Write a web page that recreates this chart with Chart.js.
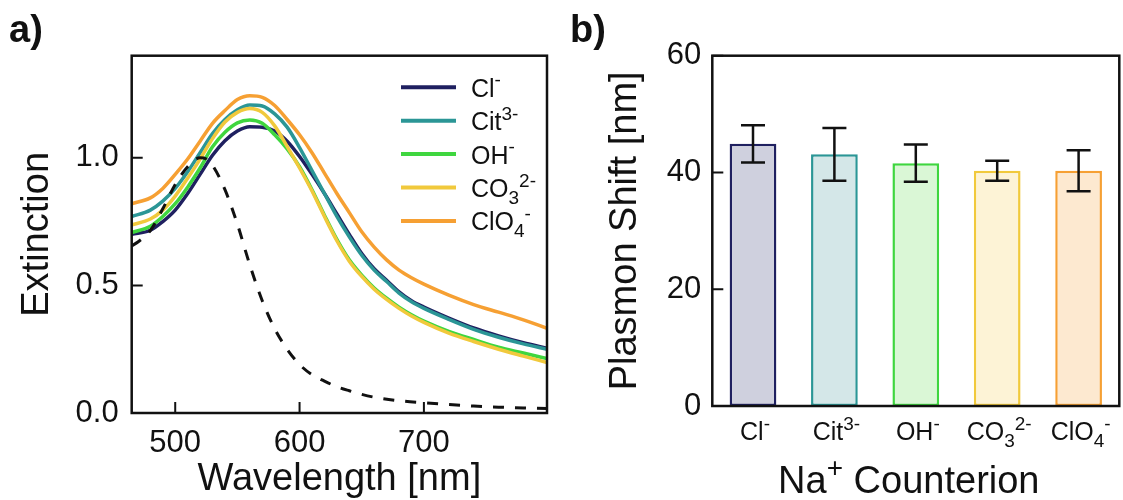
<!DOCTYPE html>
<html>
<head>
<meta charset="utf-8">
<script src="https://cdn.jsdelivr.net/npm/chart.js@4.4.1/dist/chart.umd.min.js"></script>
<style>
  html, body { margin: 0; padding: 0; background: #fff; }
  body { width: 1123px; height: 500px; position: relative; overflow: hidden; font-family: "Liberation Sans", Arial, sans-serif; }
  .panel { position: absolute; top: 0; height: 500px; }
  #container-spectra { left: 0; width: 560px; }
  #container-shift { left: 560px; width: 563px; }
  .panel-label { position: absolute; top: 10px; font-weight: bold; font-size: 38px; line-height: 38px; color: #111; z-index: 2; }
</style>
</head>
<body>
<div class="panel" id="container-spectra"><canvas id="chart-spectra"></canvas></div>
<div class="panel" id="container-shift"><canvas id="chart-shift"></canvas></div>
<div class="panel-label" style="left:9px;">a)</div>
<div class="panel-label" style="left:570px;">b)</div>
<script>
const FONT = '"Liberation Sans", Arial, sans-serif'
const INK = '#111111'

// ---- panel a: extinction spectra ----
const wavelengths = [465, 480, 490, 500, 510, 520, 530, 540, 550, 560, 570, 580, 590, 600, 610, 620, 630, 640, 650, 660, 670, 680, 690, 700, 720, 740, 760, 780, 799]
const extinctionCl = [0.700, 0.716, 0.750, 0.795, 0.860, 0.935, 1.010, 1.067, 1.105, 1.122, 1.120, 1.105, 1.065, 1.005, 0.935, 0.860, 0.780, 0.700, 0.625, 0.565, 0.520, 0.475, 0.440, 0.415, 0.372, 0.333, 0.302, 0.275, 0.254]
const extinctionCit = [0.770, 0.795, 0.830, 0.880, 0.945, 1.020, 1.095, 1.150, 1.188, 1.207, 1.203, 1.172, 1.120, 1.040, 0.950, 0.860, 0.770, 0.690, 0.618, 0.560, 0.515, 0.470, 0.436, 0.410, 0.367, 0.328, 0.297, 0.271, 0.250]
const extinctionOH = [0.707, 0.732, 0.770, 0.820, 0.885, 0.960, 1.043, 1.100, 1.137, 1.148, 1.135, 1.090, 1.035, 0.965, 0.875, 0.775, 0.680, 0.600, 0.540, 0.490, 0.450, 0.415, 0.385, 0.360, 0.320, 0.288, 0.258, 0.235, 0.213]
const extinctionCO3 = [0.737, 0.760, 0.795, 0.850, 0.920, 0.995, 1.075, 1.140, 1.178, 1.193, 1.178, 1.125, 1.045, 0.960, 0.870, 0.770, 0.675, 0.595, 0.535, 0.485, 0.445, 0.410, 0.380, 0.355, 0.313, 0.280, 0.250, 0.223, 0.198]
const extinctionClO4 = [0.820, 0.843, 0.880, 0.935, 0.995, 1.065, 1.135, 1.185, 1.228, 1.243, 1.237, 1.205, 1.150, 1.090, 1.020, 0.940, 0.860, 0.785, 0.710, 0.650, 0.600, 0.560, 0.530, 0.505, 0.462, 0.425, 0.395, 0.365, 0.332]

// dashed reference spectrum
const refWavelengths = [465, 470, 480, 490, 500, 510, 520, 525, 530, 540, 550, 560, 570, 580, 590, 600, 610, 620, 630, 640, 650, 660, 680, 700, 720, 740, 760, 780, 799]
const extinctionRef = [0.655, 0.670, 0.715, 0.800, 0.895, 0.965, 1.000, 0.995, 0.970, 0.875, 0.740, 0.580, 0.440, 0.330, 0.250, 0.190, 0.150, 0.125, 0.103, 0.087, 0.073, 0.062, 0.048, 0.040, 0.033, 0.027, 0.023, 0.020, 0.018]

const wavelengthTicks = [500, 600, 700]
const extinctionTicks = [0, 0.5, 1.0]

// ---- panel b: plasmon shift ----
const anions = ['Cl^{-}', 'Cit^{3-}', 'OH^{-}', 'CO_{3}^{2-}', 'ClO_{4}^{-}']
const shiftMeans = [44.9, 43.1, 41.6, 40.3, 40.3]
const shiftErrors = [3.2, 4.5, 3.2, 1.7, 3.5]
const shiftTicks = [0, 20, 40, 60]

const lineColors = ['#1f2060', '#2b9696', '#3fd63f', '#f1c93c', '#f6a033']
const fillColors = ['#cfd0de', '#d4e7e8', '#daf7d6', '#fdf3d6', '#fde9d0']

// text with ^{sup} and _{sub} parts
function richParts(str){
  const parts = []
  const re = /([_^])\{([^}]*)\}|([^_^]+)/g
  let m
  while ((m = re.exec(str)) !== null){
    if (m[3]) parts.push({text: m[3], mode: 'base'})
    else parts.push({text: m[2], mode: m[1] === '^' ? 'sup' : 'sub'})
  }
  return parts
}

function drawRich(ctx, str, x, y, size, align){
  const parts = richParts(str)
  const small = Math.round(size * 0.74)
  let total = 0
  parts.forEach(p => {
    ctx.font = `${p.mode === 'base' ? size : small}px ${FONT}`
    p.w = ctx.measureText(p.text).width
    total += p.w
  })
  let cx = align === 'center' ? x - total / 2 : x
  ctx.save()
  ctx.fillStyle = INK
  ctx.textAlign = 'left'
  ctx.textBaseline = 'alphabetic'
  parts.forEach(p => {
    let dy = 0
    if (p.mode === 'sup') dy = -size * 0.42
    if (p.mode === 'sub') dy = size * 0.27
    ctx.font = `${p.mode === 'base' ? size : small}px ${FONT}`
    ctx.fillText(p.text, cx, y + dy)
    cx += p.w
  })
  ctx.restore()
}

// box around the plot area and inward tick marks
const framePlugin = {
  id: 'frame',
  afterDraw(chart, args, opts){
    const {ctx, chartArea: a} = chart
    ctx.save()
    ctx.strokeStyle = INK
    ctx.lineWidth = 2.5
    ctx.strokeRect(a.left, a.top, a.right - a.left, a.bottom - a.top)
    ctx.lineWidth = 2
    ctx.beginPath()
    if (opts.xTicks){
      chart.scales.x.ticks.forEach(t => {
        const px = chart.scales.x.getPixelForValue(t.value)
        ctx.moveTo(px, a.bottom)
        ctx.lineTo(px, a.bottom - 11)
      })
    }
    chart.scales.y.ticks.forEach(t => {
      const py = chart.scales.y.getPixelForValue(t.value)
      ctx.moveTo(a.left, py)
      ctx.lineTo(a.left + 11, py)
    })
    ctx.stroke()
    ctx.restore()
  }
}

const spectraLegendPlugin = {
  id: 'spectraLegend',
  afterDraw(chart){
    const {ctx, chartArea: a} = chart
    anions.forEach((label, i) => {
      const rowY = a.top + 31.6 + i * 33.4
      ctx.save()
      ctx.strokeStyle = lineColors[i]
      ctx.lineWidth = 4
      ctx.beginPath()
      ctx.moveTo(a.right - 146, rowY)
      ctx.lineTo(a.right - 91, rowY)
      ctx.stroke()
      ctx.restore()
      drawRich(ctx, label, a.right - 76, rowY + 9.5, 25, 'left')
    })
  }
}

const errorBarPlugin = {
  id: 'errorBars',
  afterDatasetsDraw(chart){
    const {ctx, scales: {x, y}} = chart
    ctx.save()
    ctx.strokeStyle = INK
    ctx.lineWidth = 2.5
    ctx.beginPath()
    shiftMeans.forEach((v, i) => {
      const px = x.getPixelForValue(i)
      const top = y.getPixelForValue(v + shiftErrors[i])
      const bot = y.getPixelForValue(v - shiftErrors[i])
      ctx.moveTo(px, top)
      ctx.lineTo(px, bot)
      ctx.moveTo(px - 12, top)
      ctx.lineTo(px + 12, top)
      ctx.moveTo(px - 12, bot)
      ctx.lineTo(px + 12, bot)
    })
    ctx.stroke()
    ctx.restore()
  }
}

const anionAxisPlugin = {
  id: 'anionAxis',
  afterDraw(chart){
    const {ctx, chartArea: a, scales: {x}} = chart
    anions.forEach((label, i) => {
      drawRich(ctx, label, x.getPixelForValue(i) + 2, a.bottom + 34, 25, 'center')
    })
    drawRich(ctx, 'Na^{+} Counterion', (a.left + a.right) / 2 - 7, a.bottom + 87, 38, 'center')
  }
}

// ---- chart a ----
const spectraSeries = [extinctionCl, extinctionCit, extinctionOH, extinctionCO3, extinctionClO4]

new Chart(document.getElementById('chart-spectra'), {
  type: 'line',
  data: {
    datasets: [
      {
        label: 'reference',
        data: refWavelengths.map((w, i) => ({x: w, y: extinctionRef[i]})),
        borderColor: INK,
        borderWidth: 3,
        borderDash: [11, 11],
        order: 0
      },
      // later anions are drawn on top
      ...spectraSeries.map((series, k) => ({
        label: anions[k],
        data: wavelengths.map((w, i) => ({x: w, y: series[i]})),
        borderColor: lineColors[k],
        borderWidth: 3.5,
        order: spectraSeries.length - k
      }))
    ]
  },
  options: {
    responsive: true,
    maintainAspectRatio: false,
    animation: false,
    layout: { padding: { top: 55.7, right: 13, left: 0, bottom: 0 } },
    elements: {
      point: { radius: 0 },
      line: { cubicInterpolationMode: 'monotone', fill: false }
    },
    plugins: {
      legend: { display: false },
      tooltip: { enabled: false },
      frame: { xTicks: true }
    },
    scales: {
      x: {
        type: 'linear',
        min: 465,
        max: 799,
        grid: { display: false, drawTicks: false },
        border: { display: false },
        afterBuildTicks: s => { s.ticks = wavelengthTicks.map(v => ({value: v})) },
        afterFit: s => { s.height = 87 },
        ticks: { font: { family: FONT, size: 31 }, color: INK, padding: 12, maxRotation: 0 },
        title: {
          display: true,
          text: 'Wavelength [nm]',
          color: INK,
          font: { family: FONT, size: 38, lineHeight: 1.1 },
          padding: 0
        }
      },
      y: {
        type: 'linear',
        min: 0,
        max: 1.4,
        grid: { display: false, drawTicks: false },
        border: { display: false },
        afterBuildTicks: s => { s.ticks = extinctionTicks.map(v => ({value: v})) },
        afterFit: s => { s.width = 131.7 },
        ticks: { font: { family: FONT, size: 31 }, color: INK, padding: 13, callback: v => v.toFixed(1) },
        title: {
          display: true,
          text: 'Extinction',
          color: INK,
          font: { family: FONT, size: 38, lineHeight: 1.1 },
          padding: { top: 17, bottom: 0 }
        }
      }
    }
  },
  plugins: [framePlugin, spectraLegendPlugin]
})

// ---- chart b ----
new Chart(document.getElementById('chart-shift'), {
  type: 'bar',
  data: {
    labels: anions,
    datasets: [
      {
        data: shiftMeans,
        backgroundColor: fillColors,
        borderColor: lineColors,
        borderWidth: 2.5,
        borderSkipped: false,
        barPercentage: 0.574,
        categoryPercentage: 1
      }
    ]
  },
  options: {
    responsive: true,
    maintainAspectRatio: false,
    animation: false,
    layout: { padding: { top: 55.7, right: 3.7, left: 0, bottom: 0 } },
    plugins: {
      legend: { display: false },
      tooltip: { enabled: false },
      frame: { xTicks: false }
    },
    scales: {
      x: {
        grid: { display: false, drawTicks: false },
        border: { display: false },
        ticks: { display: false },
        afterFit: s => { s.height = 94 }
      },
      y: {
        min: 0,
        max: 60,
        grid: { display: false, drawTicks: false },
        border: { display: false },
        afterBuildTicks: s => { s.ticks = shiftTicks.map(v => ({value: v})) },
        afterFit: s => { s.width = 152.3 },
        ticks: { font: { family: FONT, size: 31 }, color: INK, padding: 11 },
        title: {
          display: true,
          text: 'Plasmon Shift [nm]',
          color: INK,
          font: { family: FONT, size: 38, lineHeight: 1.1 },
          padding: { top: 45, bottom: 0 }
        }
      }
    }
  },
  plugins: [framePlugin, errorBarPlugin, anionAxisPlugin]
})
</script>
</body>
</html>
